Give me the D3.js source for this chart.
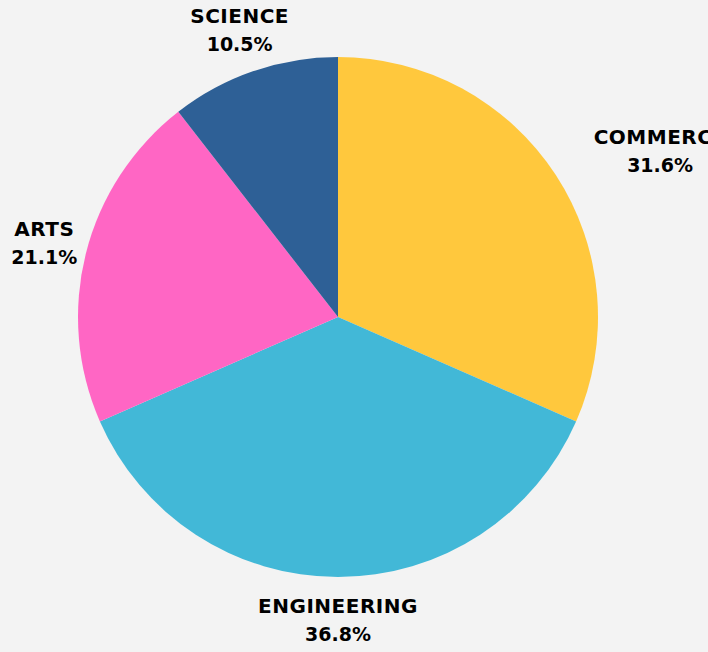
<!DOCTYPE html>
<html>
<head>
<meta charset="utf-8">
<script src="https://cdn.jsdelivr.net/npm/d3@7"></script>
<style>
  html, body { margin: 0; padding: 0; background: #f3f3f3; overflow: hidden; }
  svg { display: block; }
</style>
</head>
<body>
<svg id="pie-chart"></svg>
<script>
// chart data
var categories = ["COMMERCE", "ENGINEERING", "ARTS", "SCIENCE"];
var counts = [6, 7, 4, 2];
var colors = ["#ffc83d", "#42b8d7", "#ff66c4", "#2e6096"];

var width = 708, height = 652;
var cx = 338, cy = 317, radius = 260;

const svg = d3.select("#pie-chart")
    .attr("width", width)
    .attr("height", height);

const g = svg.append("g")
    .attr("transform", `translate(${cx},${cy})`);

var data = categories.map(function (c, i) { return { name: c, value: counts[i], color: colors[i] }; });
var total = d3.sum(counts);

var pie = d3.pie()
    .sort(null)
    .value(function (d) { return d.value; });

var arc = d3.arc().innerRadius(0).outerRadius(radius);
var labelArc = d3.arc().innerRadius(303).outerRadius(303);

var arcs = pie(data);

// slices
g.selectAll(".slice")
    .data(arcs)
    .enter().append("path")
    .attr("class", "slice")
    .attr("d", arc)
    .attr("fill", function (d) { return d.data.color; });

// labels
var labels = g.selectAll(".label")
    .data(arcs)
    .enter().append("g")
    .attr("class", "label")
    .style("font-family", "'DejaVu Sans', sans-serif")
    .style("font-weight", "bold")
    .attr("fill", "#000");

labels.each(function (d) {
    var el = d3.select(this);
    var c = labelArc.centroid(d);
    var name = el.append("text")
        .attr("text-anchor", "middle")
        .attr("y", -7)
        .style("font-size", "20px")
        .style("letter-spacing", "0.5px")
        .text(d.data.name);
    el.append("text")
        .attr("text-anchor", "middle")
        .attr("y", 21)
        .style("font-size", "19px")
        .text(d3.format(".1f")(d.data.value / total * 100) + "%");
    var w = name.node().getComputedTextLength();
    var mid = (d.startAngle + d.endAngle) / 2;
    var x = c[0];
    // right-hand labels start at the anchor point
    if (Math.sin(mid) > 0.5) x = c[0] + 2 + w / 2;
    el.attr("transform", `translate(${x},${c[1]})`);
});
</script>
</body>
</html>
